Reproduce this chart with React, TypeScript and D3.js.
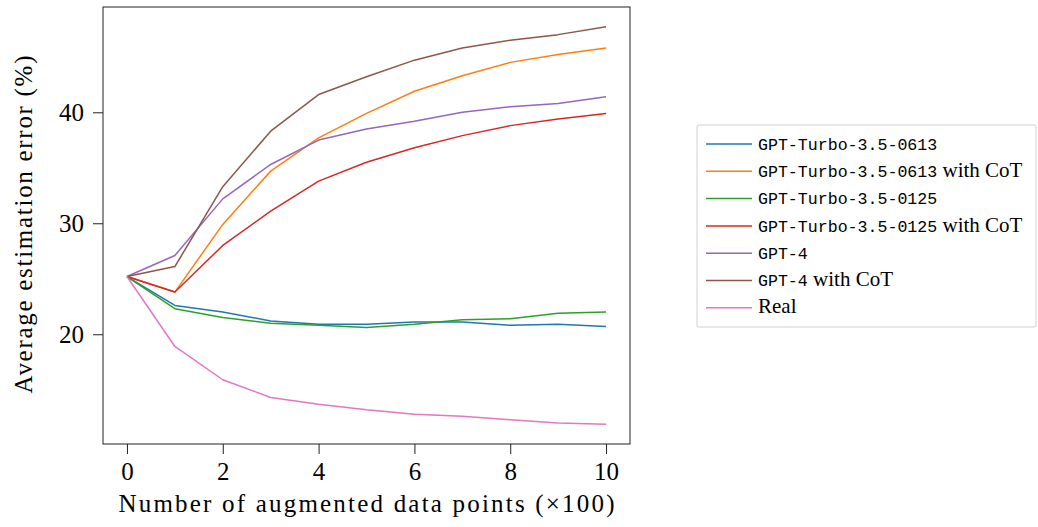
import React, { useEffect, useRef } from 'react';
import * as d3 from 'd3';

// x values (hundreds of augmented points)
const xs = [0, 1, 2, 3, 4, 5, 6, 7, 8, 9, 10];

const gpt35_0613 = [25.2, 22.6, 22.0, 21.2, 20.9, 20.9, 21.1, 21.1, 20.8, 20.9, 20.7];
const gpt35_0613_cot = [25.2, 23.8, 29.9, 34.7, 37.7, 39.9, 41.9, 43.3, 44.5, 45.2, 45.8];
const gpt35_0125 = [25.2, 22.3, 21.5, 21.0, 20.8, 20.6, 20.9, 21.3, 21.4, 21.9, 22.0];
const gpt35_0125_cot = [25.2, 23.8, 28.0, 31.1, 33.8, 35.5, 36.8, 37.9, 38.8, 39.4, 39.9];
const gpt4 = [25.2, 27.1, 32.2, 35.3, 37.5, 38.5, 39.2, 40.0, 40.5, 40.8, 41.4];
const gpt4_cot = [25.2, 26.1, 33.3, 38.3, 41.6, 43.2, 44.7, 45.8, 46.5, 47.0, 47.7];
const real = [25.2, 18.9, 15.9, 14.3, 13.7, 13.2, 12.8, 12.6, 12.3, 12.0, 11.9];

const seriesNames = [
  { mono: 'GPT-Turbo-3.5-0613', cot: false },
  { mono: 'GPT-Turbo-3.5-0613', cot: true },
  { mono: 'GPT-Turbo-3.5-0125', cot: false },
  { mono: 'GPT-Turbo-3.5-0125', cot: true },
  { mono: 'GPT-4', cot: false },
  { mono: 'GPT-4', cot: true },
  { mono: '', cot: false, serif: 'Real' },
];
const seriesValues = [gpt35_0613, gpt35_0613_cot, gpt35_0125, gpt35_0125_cot, gpt4, gpt4_cot, real];
const colors = ['#1f77b4', '#ff7f0e', '#2ca02c', '#d62728', '#9467bd', '#8c564b', '#e377c2'];

const xTicks = [0, 2, 4, 6, 8, 10];
const yTicks = [20, 30, 40];

const SERIF = '"Liberation Serif", "DejaVu Serif", serif';
const MONO = '"Liberation Mono", "DejaVu Sans Mono", monospace';

const App = () => {
  const ref = useRef<SVGSVGElement | null>(null);

  useEffect(() => {
    if (!ref.current) return;
    const svg = d3.select(ref.current);
    svg.selectAll('*').remove();

    const plot = { left: 103, right: 630, top: 7, bottom: 444 };

    const all = seriesValues.flat();
    const lo = d3.min(all) as number;
    const hi = d3.max(all) as number;
    const pad = (hi - lo) * 0.05;

    const x = d3.scaleLinear().domain([-0.5, 10.5]).range([plot.left, plot.right]);
    const y = d3.scaleLinear().domain([lo - pad, hi + pad]).range([plot.bottom, plot.top]);

    const line = d3
      .line<number>()
      .x((_, i) => x(xs[i]))
      .y((d) => y(d));

    seriesValues.forEach((vals, i) => {
      svg
        .append('path')
        .attr('d', line(vals))
        .attr('fill', 'none')
        .attr('stroke', colors[i])
        .attr('stroke-width', 1.5)
        .attr('stroke-linejoin', 'round');
    });

    // frame
    svg
      .append('rect')
      .attr('x', plot.left)
      .attr('y', plot.top)
      .attr('width', plot.right - plot.left)
      .attr('height', plot.bottom - plot.top)
      .attr('fill', 'none')
      .attr('stroke', '#222')
      .attr('stroke-width', 1);

    const xAxis = d3.axisBottom(x).tickValues(xTicks).tickSize(10).tickPadding(8);
    const yAxis = d3.axisLeft(y).tickValues(yTicks).tickSize(10).tickPadding(9);

    const gx = svg.append('g').attr('transform', `translate(0, ${plot.bottom})`).call(xAxis);
    const gy = svg.append('g').attr('transform', `translate(${plot.left}, 0)`).call(yAxis);
    [gx, gy].forEach((g) => {
      g.select('.domain').remove();
      g.selectAll('line').attr('stroke', '#222');
      g.selectAll('text')
        .attr('fill', '#000')
        .style('font-family', SERIF)
        .style('font-size', '25px');
    });

    svg
      .append('text')
      .attr('x', (plot.left + plot.right) / 2)
      .attr('y', 512)
      .attr('text-anchor', 'middle')
      .attr('textLength', 496)
      .attr('lengthAdjust', 'spacing')
      .style('font-family', SERIF)
      .style('font-size', '25px')
      .text('Number of augmented data points (×100)');

    svg
      .append('text')
      .attr('transform', `translate(32, ${(plot.top + plot.bottom) / 2 - 1}) rotate(-90)`)
      .attr('text-anchor', 'middle')
      .attr('textLength', 338)
      .attr('lengthAdjust', 'spacing')
      .style('font-family', SERIF)
      .style('font-size', '25px')
      .text('Average estimation error (%)');

    // legend
    const lg = svg.append('g');
    lg.append('rect')
      .attr('x', 697)
      .attr('y', 125)
      .attr('width', 339)
      .attr('height', 202)
      .attr('rx', 2)
      .attr('fill', '#fff')
      .attr('stroke', '#d0d0d0')
      .attr('stroke-width', 1);

    seriesNames.forEach((s, i) => {
      const cy = 144 + i * 27.3;
      lg.append('line')
        .attr('x1', 706)
        .attr('x2', 752)
        .attr('y1', cy)
        .attr('y2', cy)
        .attr('stroke', colors[i])
        .attr('stroke-width', 1.5);
      const t = lg
        .append('text')
        .attr('x', 758)
        .attr('y', cy)
        .attr('dy', '0.35em');
      if (s.mono) {
        t.append('tspan').style('font-family', MONO).style('font-size', '16.6px').text(s.mono);
      }
      if (s.cot) {
        t.append('tspan')
          .style('font-family', SERIF)
          .style('font-size', '21px')
          .text('\u00a0with CoT');
      }
      if (s.serif) {
        t.append('tspan').style('font-family', SERIF).style('font-size', '21px').text(s.serif);
      }
    });
  }, []);

  return (
    <svg
      ref={ref}
      width={1038}
      height={527}
      style={{ position: 'absolute', left: 0, top: 0, background: '#fff' }}
    />
  );
};

export default App;
